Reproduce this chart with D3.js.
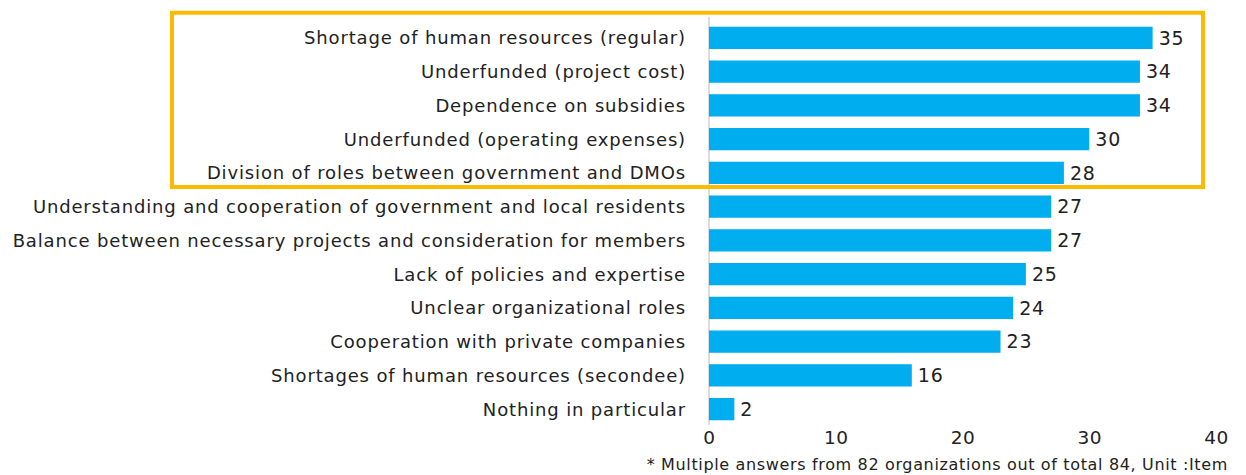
<!DOCTYPE html>
<html>
<head>
<meta charset="utf-8">
<script src="https://cdn.jsdelivr.net/npm/d3@7"></script>
<style>
  html, body { margin: 0; padding: 0; background: #fff; }
  svg { display: block; }
  text { font-family: "DejaVu Sans", sans-serif; fill: #222; }
</style>
</head>
<body>
<svg id="chart" width="1246" height="475"></svg>
<script>
// Challenges reported by DMOs (number of answers)
const categories = [
  "Shortage of human resources (regular)",
  "Underfunded (project cost)",
  "Dependence on subsidies",
  "Underfunded (operating expenses)",
  "Division of roles between government and DMOs",
  "Understanding and cooperation of government and local residents",
  "Balance between necessary projects and consideration for members",
  "Lack of policies and expertise",
  "Unclear organizational roles",
  "Cooperation with private companies",
  "Shortages of human resources (secondee)",
  "Nothing in particular"
];
const values = [35, 34, 34, 30, 28, 27, 27, 25, 24, 23, 16, 2];
const xTicks = [0, 10, 20, 30, 40];
const highlighted = categories.slice(0, 5);
const footnote = "* Multiple answers from 82 organizations out of total 84, Unit :Item";

const svg = d3.select("#chart");
const margin = { left: 709, top: 21 };

const x = d3.scaleLinear().domain([0, 40]).range([margin.left, 1216]);
const y = d3.scaleBand()
  .domain(categories)
  .range([margin.top, 426])
  .paddingInner(0.34)
  .paddingOuter(0.17);

// zero line
svg.append("line")
  .attr("x1", x(0)).attr("x2", x(0))
  .attr("y1", 17).attr("y2", 425)
  .attr("stroke", "#dcdcdc").attr("stroke-width", 2);

// bars
svg.append("g").selectAll("rect")
  .data(values)
  .join("rect")
  .attr("x", x(0))
  .attr("y", (d, i) => y(categories[i]))
  .attr("width", d => x(d) - x(0))
  .attr("height", y.bandwidth())
  .attr("fill", "#00adee");

// value labels
svg.append("g").selectAll("text")
  .data(values)
  .join("text")
  .attr("x", d => x(d) + 6)
  .attr("y", (d, i) => y(categories[i]) + y.bandwidth() / 2)
  .attr("dy", "0.36em")
  .attr("font-size", 19)
  .attr("letter-spacing", 0.8)
  .text(d => d);

// category labels
svg.append("g").selectAll("text")
  .data(categories)
  .join("text")
  .attr("x", 686)
  .attr("y", d => y(d) + y.bandwidth() / 2)
  .attr("dy", "0.36em")
  .attr("text-anchor", "end")
  .attr("font-size", 18)
  .attr("letter-spacing", 0.85)
  .text(d => d);

// x axis tick labels
const xAxis = d3.axisBottom(x).tickValues(xTicks).tickSize(0).tickPadding(0);
const gx = svg.append("g").attr("transform", "translate(0,431)").call(xAxis);
gx.select(".domain").remove();
gx.selectAll("text")
  .attr("font-size", 18.5)
  .attr("letter-spacing", 0.5)
  .attr("fill", "#222")
  .attr("font-family", "DejaVu Sans, sans-serif");

// highlight frame around the top group
const top0 = y(highlighted[0]) - 14;
const bot0 = y(highlighted[highlighted.length - 1]) + y.bandwidth() + 3;
svg.append("rect")
  .attr("x", 172).attr("y", top0)
  .attr("width", 1203 - 172).attr("height", bot0 - top0)
  .attr("fill", "none")
  .attr("stroke", "#ffba00").attr("stroke-width", 4);

// footnote
svg.append("text")
  .attr("x", 1228).attr("y", 470)
  .attr("text-anchor", "end")
  .attr("font-size", 16)
  .attr("letter-spacing", 0.65)
  .text(footnote);
</script>
</body>
</html>
